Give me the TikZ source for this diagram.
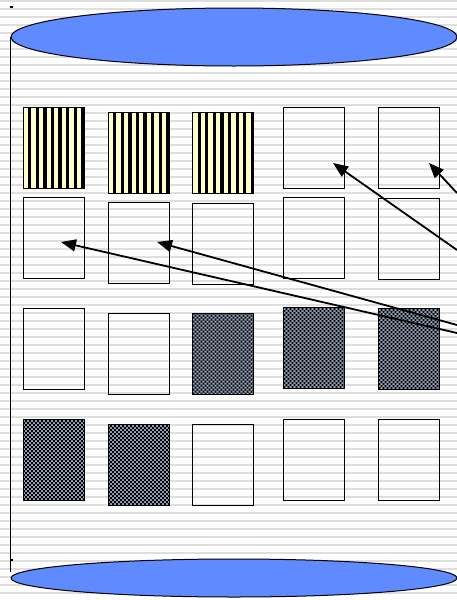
\documentclass[tikz,border=0pt]{standalone}
\usepackage{tikz}
\usetikzlibrary{positioning,arrows.meta}
\definecolor{diskblue}{RGB}{96,138,255}
\definecolor{ruleline}{RGB}{222,222,222}
\definecolor{stripeyel}{RGB}{255,255,204}
\definecolor{checkgray}{RGB}{150,166,188}

\begin{document}
\begin{tikzpicture}[x=1pt,y=-1pt,
  cell/.style={draw,line width=1pt,minimum width=61pt,minimum height=81pt,inner sep=0pt},
  stripes/.style={cell,fill=stripeyel,path picture={\foreach \s in {0,...,8} {\fill[black] ([xshift=5pt+\s*7.6pt]path picture bounding box.south west) rectangle ++(3.3pt,90pt);}}},
  checker/.style={cell,fill=checkgray,path picture={\fill[black] \foreach \i in {0,...,15} {\foreach \j in {0,...,21} {([shift={(\i*4pt,\j*4pt)}]path picture bounding box.south west) rectangle ++(1.8pt,1.8pt) ([shift={(\i*4pt+2pt,\j*4pt+2pt)}]path picture bounding box.south west) rectangle ++(1.8pt,1.8pt)}};}},
  disk/.style={draw,line width=1pt,fill=diskblue},
  pointer/.style={line width=1.8pt,-{Triangle[length=15pt,width=12pt]}}]
% lined paper background
\useasboundingbox (0,0) rectangle (457,600);
\fill[white] (0,0) rectangle (457,600);
\foreach \k in {0,...,74} {\draw[ruleline,line width=1.6pt] (0,{1+8*\k}) -- (457,{1+8*\k});}
% cylinder
\draw[line width=1pt] (10.5,37) -- (10.5,572);
\fill (10.5,559) rectangle (13,561);
\fill (10,5.5) rectangle (12.5,8);
\draw[disk] (234,578) ellipse [x radius=223pt, y radius=19pt];
\draw[disk] (234,37) ellipse [x radius=223pt, y radius=29pt];
% blocks, row by row
\node[stripes] (b11) at (53.5,147.5) {};
\node[stripes] (b12) at (138.5,152.5) {};
\node[stripes] (b13) at (223,152.5) {};
\node[cell] (b14) at (314,147.5) {};
\node[cell] (b15) at (409,147.5) {};
\node[cell] (b21) at (53.5,238) {};
\node[cell] (b22) at (138.5,243) {};
\node[cell] (b23) at (223,243.5) {};
\node[cell] (b24) at (314,238) {};
\node[cell] (b25) at (409,239) {};
\node[cell] (b31) at (53.5,348.5) {};
\node[cell] (b32) at (138.5,353.5) {};
\node[checker] (b33) at (223,354) {};
\node[checker] (b34) at (314,347.5) {};
\node[checker] (b35) at (409,348.5) {};
\node[checker] (b41) at (53.5,459.5) {};
\node[checker] (b42) at (138.5,464.5) {};
\node[cell] (b43) at (223,464.5) {};
\node[cell] (b44) at (314,459.5) {};
\node[cell] (b45) at (409,459.5) {};
% pointers from the right
\coordinate (s14) at (457,250);
\coordinate (s15) at (457,193);
\coordinate (s21) at (457,333);
\coordinate (s22) at (457,325);
\coordinate (t14) at (333,163);
\coordinate (t15) at (429,163);
\coordinate (t21) at (61,242);
\coordinate (t22) at (157,242);
\draw[pointer] (s14) -- (t14);
\draw[pointer] (s15) -- (t15);
\draw[pointer] (s21) -- (t21);
\draw[pointer] (s22) -- (t22);
\end{tikzpicture}
\end{document}
